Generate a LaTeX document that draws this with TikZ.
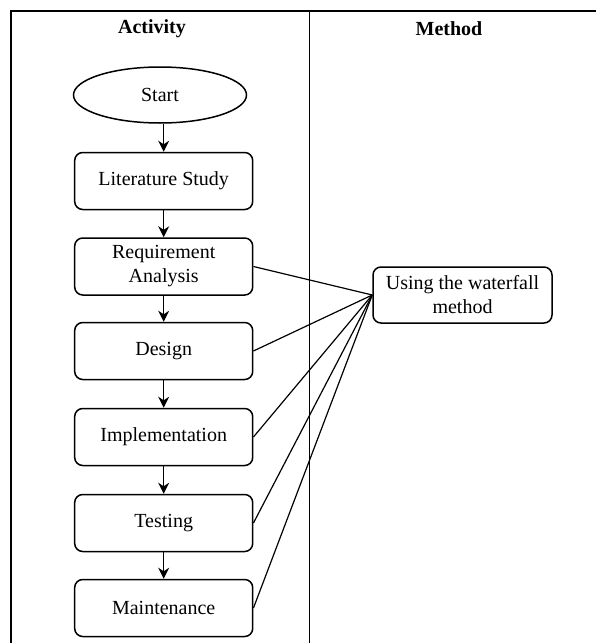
\documentclass[tikz,border=0pt]{standalone}
\usepackage{fontspec}
\setmainfont{Liberation Serif}
\usetikzlibrary{arrows.meta,shapes.geometric}
\begin{document}
\begin{tikzpicture}[x=1pt,y=-1pt,
  every node/.style={font=\fontsize{20}{24}\selectfont},
  stepbox/.style={draw,line width=1.5pt,rounded corners=8pt,minimum width=178pt,minimum height=57pt,align=center,inner sep=0pt},
  startshape/.style={draw,line width=1.5pt,ellipse,minimum width=173pt,minimum height=56pt,inner sep=0pt},
  flow/.style={line width=1.5pt,-{Stealth[length=11pt,width=11pt]}},
  link/.style={line width=1.2pt},
  frame/.style={line width=1.6pt}]
\useasboundingbox (0,0) rectangle (596,643);
\fill[white] (0,0) rectangle (596,643);
% frame
\draw[frame] (11,643) -- (11,11) -- (596,11);
\draw[frame] (309.5,11) -- (309.5,643);
\node[font=\fontsize{20}{24}\selectfont\bfseries] (hact) at (152,29) {Activity};
\node[font=\fontsize{20}{24}\selectfont\bfseries] (hmeth) at (449,29) {Method};
% activity column
\node[startshape] (start) at (160,95) {Start};
\node[stepbox] (lit) at (163.7,181) {Literature Study};
\node[stepbox] (req) at (163.7,266.5) {Requirement\\Analysis};
\node[stepbox] (des) at (163.7,351) {Design};
\node[stepbox] (imp) at (163.7,437) {Implementation};
\node[stepbox] (tst) at (163.7,523) {Testing};
\node[stepbox] (mnt) at (163.7,608) {Maintenance};
% method
\node[stepbox,minimum width=179pt,minimum height=56pt] (wf) at (462.5,295) {Using the waterfall\\method};
% flow arrows
\draw[flow] (start.south -| lit.north) -- (lit.north);
\draw[flow] (lit) -- (req);
\draw[flow] (req) -- (des);
\draw[flow] (des) -- (imp);
\draw[flow] (imp) -- (tst);
\draw[flow] (tst) -- (mnt);
% links
\foreach \n in {req,des,imp,tst,mnt}
  \draw[link] (\n.east) -- (wf.west);
\end{tikzpicture}
\end{document}
